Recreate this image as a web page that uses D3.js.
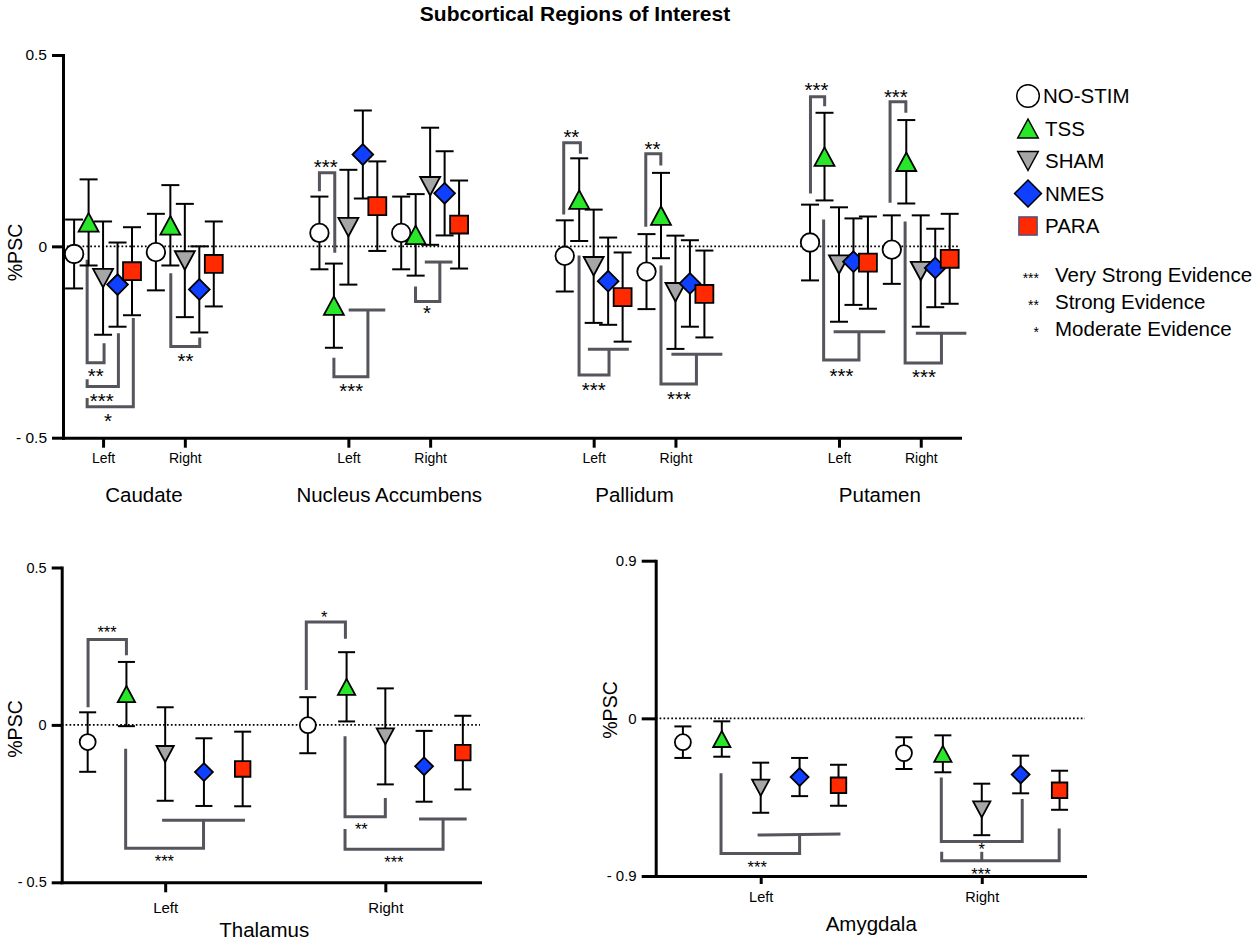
<!DOCTYPE html>
<html><head><meta charset="utf-8">
<script src="https://cdn.jsdelivr.net/npm/d3@7"></script>
<style>
body{margin:0;background:#fff}
svg{display:block}
text{font-family:"Liberation Sans",Arial,Helvetica,sans-serif;fill:#000}
</style>
</head><body>
<svg id="chart" width="1260" height="941"></svg>
<script>
// ---------------- DATA ----------------
const seriesNames  = ["NO-STIM","TSS","SHAM","NMES","PARA"];
const seriesColors = ["#ffffff","#28e628","#a6a6a6","#1040ff","#ff2a00"];
const seriesShapes = ["circle","triangleUp","triangleDown","diamond","square"];

const title = "Subcortical Regions of Interest";
const yTitle = "%PSC";
const sides = ["Left","Right"];

// top panel: 4 regions x 2 sides (rows: Caudate L, Caudate R, NAcc L, NAcc R, Pallidum L, R, Putamen L, R)
const topRegions = ["Caudate","Nucleus Accumbens","Pallidum","Putamen"];
const topMeans = [
  [-0.020, 0.0625,-0.083,-0.100,-0.065],
  [-0.015, 0.055, -0.037,-0.1125,-0.046],
  [ 0.035,-0.155,  0.050, 0.240, 0.105],
  [ 0.035, 0.030,  0.157, 0.1385,0.057],
  [-0.025, 0.122, -0.052,-0.091,-0.1325],
  [-0.066, 0.0805,-0.120,-0.097,-0.1245],
  [ 0.010, 0.2345,-0.0475,-0.040,-0.0425],
  [-0.0085,0.221, -0.0645,-0.0565,-0.0325]
];
const topErrors = [
  [0.090,0.1125,0.148,0.110,0.115],
  [0.100,0.105,0.148,0.1125,0.111],
  [0.095,0.110,0.150,0.115,0.117],
  [0.095,0.1065,0.153,0.110,0.115],
  [0.093,0.108,0.148,0.114,0.1165],
  [0.098,0.1115,0.148,0.113,0.1135],
  [0.099,0.1145,0.1495,0.113,0.1205],
  [0.0895,0.109,0.1455,0.1025,0.1175]
];
const topYTicks = [0.5, 0, -0.5];
const topYTickLabels = ["0.5","0","- 0.5"];

// Thalamus
const thalRegion = "Thalamus";
const thalMeans = [
  [-0.0545, 0.098,-0.0925,-0.150,-0.140],
  [-0.001,  0.121,-0.0365,-0.1315,-0.088]
];
const thalErrors = [
  [0.0945,0.102,0.1485,0.1075,0.1185],
  [0.089,0.110,0.1525,0.1125,0.117]
];
const thalYTicks = [0.5, 0, -0.5];
const thalYTickLabels = ["0.5","0","- 0.5"];

// Amygdala
const amygRegion = "Amygdala";
const amygMeans = [
  [-0.136,-0.118,-0.396,-0.335,-0.382],
  [-0.1985,-0.2025,-0.520,-0.3205,-0.4105]
];
const amygErrors = [
  [0.090,0.101,0.143,0.109,0.117],
  [0.0905,0.1055,0.147,0.1075,0.1115]
];
const amygYTicks = [0.9, 0, -0.9];
const amygYTickLabels = ["0.9","0","- 0.9"];

// significance brackets: c = category row, p = polyline [series slot, value], x = extra segment, t = label, at = label centre
const topBrackets = [
  {c:0, p:[[0.9,-0.035],[0.9,-0.304],[2.07,-0.304],[2.07,-0.253]], t:"**",  at:[1.5,-0.327]},
  {c:0, p:[[0.9,-0.347],[0.9,-0.366],[3.06,-0.366],[3.06,-0.227]], t:"***", at:[1.91,-0.391]},
  {c:0, p:[[0.9,-0.396],[0.9,-0.419],[4.09,-0.419],[4.09,-0.187]], t:"*",   at:[2.34,-0.443]},
  {c:1, p:[[1.03,-0.07],[1.03,-0.262],[3.03,-0.262],[3.03,-0.238]], t:"**", at:[2.05,-0.288]},
  {c:2, p:[[0,0.144],[0,0.192],[1.06,0.192],[1.06,-0.017]], t:"***", at:[0.43,0.22]},
  {c:2, p:[[1,-0.291],[1,-0.341],[3.35,-0.341],[3.35,-0.166]], x:[[2.02,-0.166],[4.55,-0.166]], t:"***", at:[2.2,-0.365]},
  {c:3, p:[[0.99,-0.105],[0.99,-0.144],[2.67,-0.144],[2.67,-0.041]], x:[[1.63,-0.041],[3.54,-0.041]], t:"*", at:[1.79,-0.161]},
  {c:4, p:[[-0.07,0.083],[-0.07,0.271],[1.08,0.271],[1.08,0.242]], t:"**", at:[0.46,0.297]},
  {c:4, p:[[0.99,-0.024],[0.99,-0.336],[3.06,-0.336],[3.06,-0.269]], x:[[1.6,-0.269],[4.43,-0.269]], t:"***", at:[2.0,-0.362]},
  {c:5, p:[[-0.05,0.051],[-0.05,0.242],[0.99,0.242],[0.99,0.211]], t:"**", at:[0.41,0.266]},
  {c:5, p:[[1.0,-0.05],[1.0,-0.36],[3.45,-0.36],[3.45,-0.282]], x:[[1.72,-0.282],[5.24,-0.282]], t:"***", at:[2.25,-0.386]},
  {c:6, p:[[0.03,0.138],[0.03,0.391],[1.01,0.391],[1.01,0.366]], t:"***", at:[0.44,0.42]},
  {c:6, p:[[0.94,0.07],[0.94,-0.297],[3.38,-0.297],[3.38,-0.223]], x:[[1.63,-0.223],[5.2,-0.223]], t:"***", at:[2.17,-0.327]},
  {c:7, p:[[-0.12,0.114],[-0.12,0.378],[0.97,0.378],[0.97,0.349]], t:"***", at:[0.28,0.403]},
  {c:7, p:[[0.92,0.065],[0.92,-0.305],[3.43,-0.305],[3.43,-0.227]], x:[[1.66,-0.227],[5.15,-0.227]], t:"***", at:[2.23,-0.33]}
];
const thalBrackets = [
  {c:0, p:[[0.01,0.056],[0.01,0.271],[1.0,0.271],[1.0,0.221]], t:"***", at:[0.5,0.306]},
  {c:0, p:[[0.98,-0.076],[0.98,-0.392],[2.99,-0.392],[2.99,-0.303]], x:[[1.92,-0.303],[4.06,-0.303]], t:"***", at:[1.98,-0.422]},
  {c:1, p:[[-0.04,0.111],[-0.04,0.327],[0.97,0.327],[0.97,0.274]], t:"*", at:[0.42,0.354]},
  {c:1, p:[[0.96,-0.036],[0.96,-0.292],[2.0,-0.292],[2.0,-0.232]], t:"**", at:[1.38,-0.321]},
  {c:1, p:[[0.96,-0.331],[0.96,-0.395],[3.49,-0.395],[3.49,-0.299]], x:[[2.87,-0.299],[4.1,-0.299]], t:"***", at:[2.22,-0.425]}
];
const amygBrackets = [
  {c:0, p:[[0.98,-0.314],[0.98,-0.771],[3.0,-0.771],[3.0,-0.666]], x:[[1.92,-0.666],[4.05,-0.660]], t:"***", at:[1.91,-0.826]},
  {c:1, p:[[0.96,-0.337],[0.96,-0.703],[3.04,-0.703],[3.04,-0.461]], t:"*", at:[2.0,-0.727]},
  {c:1, p:[[0.97,-0.762],[0.97,-0.813],[3.99,-0.813],[3.99,-0.629]], x:[[2.0,-0.813],[2.0,-0.762]], t:"***", at:[1.98,-0.868]}
];

const evidenceMarks  = ["***","**","*"];
const evidenceLabels = ["Very Strong Evidence","Strong Evidence","Moderate Evidence"];

// ---------------- DRAWING ----------------
const svg = d3.select("#chart");
const BRACKET = "#55555d";

function shapePath(shape, S){
  const h = S/2;
  switch(shape){
    case "circle": return d3.symbol(d3.symbolCircle, Math.PI*h*h)();
    case "triangleUp": return `M0,${-h}L${h*1.08},${h}L${-h*1.08},${h}Z`;
    case "triangleDown": return `M0,${h}L${h*1.08},${-h}L${-h*1.08},${-h}Z`;
    case "diamond": { const d=h*1.12; return `M0,${-d}L${d},0L0,${d}L${-d},0Z`; }
    case "square": { const q=h*0.97; return `M${-q},${-q}H${q}V${q}H${-q}Z`; }
  }
}

svg.append("text").attr("x",575).attr("y",21).attr("text-anchor","middle")
  .attr("font-size",21).attr("font-weight","bold").text(title);

function panel(o){
  const g = svg.append("g");
  const x = d3.scaleLinear().domain(o.xDomain).range(o.xRange);
  const y = d3.scaleLinear().domain(o.yDomain).range(o.yRange);
  const sx = (pos, s) => x(pos + (s-2)*o.step);

  // zero dotted line
  g.append("line").attr("x1",o.xRange[0]).attr("x2",o.xRange[1])
    .attr("y1",y(0)).attr("y2",y(0)).attr("stroke","#000")
    .attr("stroke-width",1.7).attr("stroke-dasharray","1.7,2.2");

  // brackets
  const bg = g.append("g").attr("fill","none").attr("stroke",BRACKET).attr("stroke-width",3);
  o.brackets.forEach(b=>{
    const pos = o.pos[b.c];
    const ln = d3.line().x(d=>sx(pos,d[0])).y(d=>y(d[1]));
    bg.append("path").attr("d", ln(b.p));
    if(b.x) bg.append("path").attr("d", ln(b.x));
    g.append("text").attr("x", sx(pos,b.at[0])).attr("y", y(b.at[1]) + 0.575*o.starFont)
      .attr("text-anchor","middle").attr("font-size",o.starFont).text(b.t);
  });

  // error bars and markers
  o.means.forEach((row,ci)=>{
    const pos = o.pos[ci];
    row.forEach((m,si)=>{
      const e = o.errors[ci][si];
      const cx = sx(pos,si);
      const eg = g.append("g").attr("stroke","#000").attr("stroke-width",2);
      eg.append("line").attr("x1",cx).attr("x2",cx).attr("y1",y(m+e)).attr("y2",y(m-e));
      eg.append("line").attr("x1",cx-o.cap/2).attr("x2",cx+o.cap/2).attr("y1",y(m+e)).attr("y2",y(m+e));
      eg.append("line").attr("x1",cx-o.cap/2).attr("x2",cx+o.cap/2).attr("y1",y(m-e)).attr("y2",y(m-e));
    });
  });
  o.means.forEach((row,ci)=>{
    const pos = o.pos[ci];
    row.forEach((m,si)=>{
      g.append("path").attr("d", shapePath(seriesShapes[si], o.marker))
        .attr("transform",`translate(${sx(pos,si)},${y(m)})`)
        .attr("fill",seriesColors[si]).attr("stroke","#000").attr("stroke-width",1.8);
    });
  });

  // axes
  const yAxis = d3.axisLeft(y).tickValues(o.yTicks).tickFormat((d,i)=>o.yTickLabels[i])
    .tickSize(o.yTickLen).tickSizeOuter(0).tickPadding(5);
  const ya = g.append("g").attr("transform",`translate(${o.xRange[0]},0)`).call(yAxis);
  const xAxis = d3.axisBottom(x).tickValues(o.uniquePos).tickFormat((d,i)=>o.catLabels[i])
    .tickSize(o.xTickLen).tickSizeOuter(0).tickPadding(o.xPad);
  const xa = g.append("g").attr("transform",`translate(0,${o.yRange[0]})`).call(xAxis);
  [ya,xa].forEach(a=>{
    a.attr("font-family",null).attr("font-size",null);
    a.select(".domain").attr("stroke","#000").attr("stroke-width",3).attr("stroke-linecap","square");
    a.selectAll(".tick line").attr("stroke","#000").attr("stroke-width",3);
  });
  ya.selectAll(".tick text").attr("font-size",o.yFont);
  xa.selectAll(".tick text").attr("font-size",o.xFont);

  // y title
  g.append("text").attr("transform",`translate(${o.yTitleX + 0.358*o.yTitleFont},${o.yTitleY}) rotate(-90)`)
    .attr("text-anchor","middle").attr("font-size",o.yTitleFont).text(yTitle);

  // group labels
  o.groups.forEach(gr=>{
    g.append("text").attr("x", x(gr.at)).attr("y", o.groupY)
      .attr("text-anchor","middle").attr("font-size",o.groupFont).text(gr.name);
  });
}

// top panel
const topPos = topMeans.map((_,i)=>Math.floor(i/2)*3 + i%2);
panel({
  xDomain:[-0.49,10.48], xRange:[63,960], yDomain:[-0.5,0.5], yRange:[437.7,55],
  step:0.177, pos:topPos, uniquePos:topPos, catLabels:topPos.map((_,i)=>sides[i%2]),
  means:topMeans, errors:topErrors, brackets:topBrackets,
  yTicks:topYTicks, yTickLabels:topYTickLabels, yTickLen:11, xTickLen:10, xPad:5.5,
  yFont:15.5, xFont:14, cap:18, marker:18.5, starFont:20.5,
  yTitleX:15, yTitleY:252.5, yTitleFont:19.5,
  groups:topRegions.map((n,r)=>({name:n, at:r*3+0.5})), groupY:501.5, groupFont:20.5
});

// thalamus
panel({
  xDomain:[-0.47,1.43], xRange:[61.7,480], yDomain:[-0.5,0.5], yRange:[882.3,567.5],
  step:0.176, pos:[0,1], uniquePos:[0,1], catLabels:sides,
  means:thalMeans, errors:thalErrors, brackets:thalBrackets,
  yTicks:thalYTicks, yTickLabels:thalYTickLabels, yTickLen:10, xTickLen:10, xPad:10,
  yFont:14.5, xFont:15, cap:17, marker:16, starFont:16.5,
  yTitleX:15, yTitleY:729, yTitleFont:19.5,
  groups:[{name:thalRegion, at:0.45}], groupY:937, groupFont:20.5
});

// amygdala
panel({
  xDomain:[-0.475,1.467], xRange:[655.7,1085], yDomain:[-0.9,0.9], yRange:[876,560.7],
  step:0.176, pos:[0,1], uniquePos:[0,1], catLabels:sides,
  means:amygMeans, errors:amygErrors, brackets:amygBrackets,
  yTicks:amygYTicks, yTickLabels:amygYTickLabels, yTickLen:14, xTickLen:8, xPad:7.7,
  yFont:15, xFont:14.5, cap:17, marker:16, starFont:16.5,
  yTitleX:610, yTitleY:710, yTitleFont:19.5,
  groups:[{name:amygRegion, at:0.5}], groupY:931, groupFont:20.5
});

// legend
const lg = svg.append("g");
const legendSizes = [22.6, 19, 19, 24, 19];
seriesNames.forEach((n,i)=>{
  const yy = 96 + i*32.5;
  lg.append("path").attr("d", shapePath(seriesShapes[i], legendSizes[i]))
    .attr("transform",`translate(1028,${yy})`).attr("fill",seriesColors[i])
    .attr("stroke", i===4 ? "#34558f" : "#000").attr("stroke-width", i===4 ? 1.2 : 1.5);
  lg.append("text").attr("x", i===0 ? 1043 : 1045).attr("y", yy + 7.3)
    .attr("font-size",20.5).text(n);
});
evidenceLabels.forEach((t,i)=>{
  const yy = 274.5 + i*27.3;
  lg.append("text").attr("x",1039).attr("y", yy + 0.575*14).attr("text-anchor","end")
    .attr("font-size",14).text(evidenceMarks[i]);
  lg.append("text").attr("x",1055).attr("y", yy + 7.3).attr("font-size",20.5).text(t);
});
</script>
</body></html>
